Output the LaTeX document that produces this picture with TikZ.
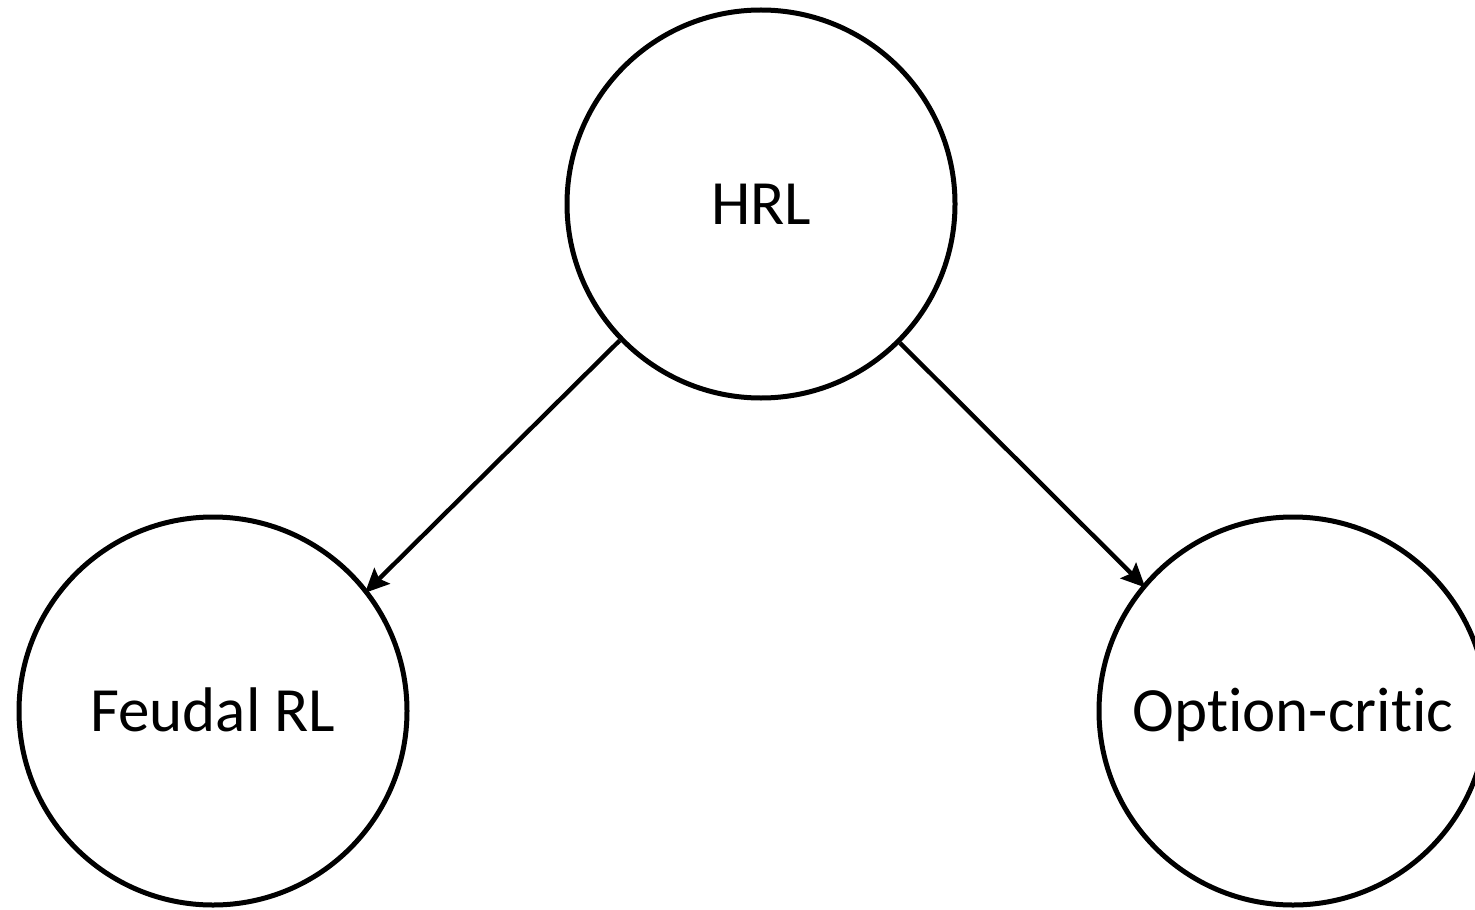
\documentclass[tikz,border=0pt]{standalone}
\usepackage{fontspec}
\setmainfont{Carlito}[Ligatures=NoCommon]
\usetikzlibrary{arrows.meta}
\begin{document}
\begin{tikzpicture}[x=0.5pt,y=-0.5pt,
  topic/.style={circle,draw=black,line width=2.5pt,minimum size=194pt,inner sep=0pt,
    font=\fontsize{31.5pt}{36pt}\selectfont,text height=20pt,text depth=0pt},
  link/.style={line width=2.2pt,-{Stealth[length=12pt,width=11pt,inset=2pt]},shorten >=-2pt}]
  \useasboundingbox (0,0) rectangle (1475,909);
  \node[topic] (hrl) at (761,204) {HRL};
  \node[topic] (feudal) at (213,711) {Feudal RL};
  \node[topic] (opt) at (1293,711) {Option-critic};
  \draw[link] (hrl.224.6) -- (feudal.38.8);
  \draw[link] (hrl.315.8) -- (opt.140.6);
\end{tikzpicture}
\end{document}
